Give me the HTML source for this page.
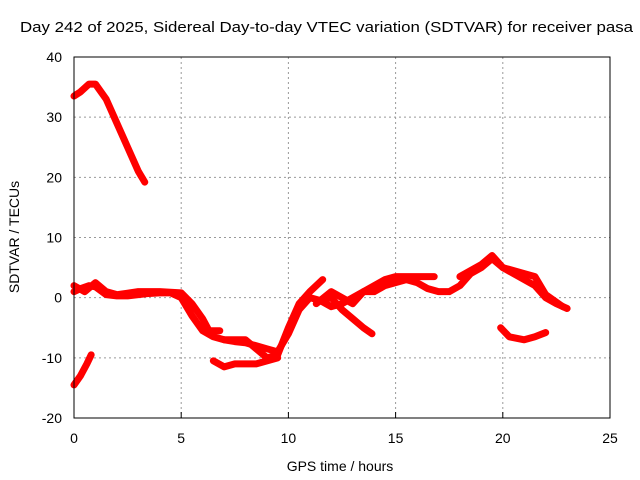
<!DOCTYPE html>
<html><head><meta charset="utf-8"><style>
body{margin:0;background:#fff}
svg{display:block;font-family:"Liberation Sans",sans-serif}
</style></head><body>
<svg id="c" width="640" height="480">
<text x="20" y="32" font-size="15" textLength="613" lengthAdjust="spacingAndGlyphs">Day 242 of 2025, Sidereal Day-to-day VTEC variation (SDTVAR) for receiver pasa</text>
<text x="340" y="471" font-size="14" text-anchor="middle">GPS time / hours</text>
<text transform="translate(19,237) rotate(-90)" font-size="14" text-anchor="middle">SDTVAR / TECUs</text>
<g id="grid"></g><g id="marks"></g>
<rect x="74" y="57" width="536" height="361" fill="none" stroke="#000" stroke-width="1"/>
</svg>
<script>
const xTicks=[0,5,10,15,20,25];
const yTicks=[-20,-10,0,10,20,30,40];
const s1x=[0,0.3,0.7,1.0,1.5,2,2.5,3,3.3];
const s1y=[33.5,34.2,35.5,35.5,33,29,25,21,19.2];
const s2x=[0,0.3,0.6,0.8];
const s2y=[-14.5,-13,-11,-9.5];
const s3x=[0,0.3,0.7,1.0,1.5,2,2.5,3,3.5,4,4.5,5,5.5,6,6.5,7,7.5,8,8.5,9,9.5,10,10.5,11,11.5,12,12.5,13,13.5,14,14.5,15,15.5,16,16.5,17,17.5,18,18.5,19,19.5,20,20.5,21,21.5,22,22.5,23];
const s3y=[1,1.5,2,1.8,0.5,0.3,0.3,0.5,0.7,0.8,0.8,0,-3,-5.5,-6.5,-7,-7.3,-7.5,-8,-8.5,-9,-6,-2,0,-0.5,-1.5,-1,0,1,1,2,2.5,3,2.5,1.5,1,1,2,4,5,6.5,5,4,3,2,0,-1,-1.8];
const s4x=[0,0.5,1,1.5,2,3,4,5,5.5,6,6.3,6.8];
const s4y=[2,1,2.5,1,0.5,1,1,0.8,-1,-3.5,-5.5,-5.5];
const s5x=[7,8,8.5,9,9.5,10,10.5,11,11.6];
const s5y=[-7,-7,-8.5,-10,-9.5,-5,-1,1,3];
const s6x=[11.5,12,12.5,13,13.5,13.9];
const s6y=[-0.5,0,-2,-3.5,-5,-6];
const s7x=[6.5,7,7.5,8.5,9,9.5];
const s7y=[-10.5,-11.5,-11,-11,-10.5,-10];
const s8x=[11.3,12,12.5,13,13.5,14,14.5,15,16,16.8];
const s8y=[-1,1,0,-1,1,2,3,3.5,3.5,3.5];
const s9x=[18,18.5,19,19.5,20,21,21.5,22,22.8];
const s9y=[3.5,4.5,5.5,7,5,4,3.5,0.5,-1.5];
const s10x=[19.9,20.3,21,21.5,22];
const s10y=[-5,-6.5,-7,-6.5,-5.8];
const series=[[s1x,s1y],[s2x,s2y],[s3x,s3y],[s4x,s4y],[s5x,s5y],[s6x,s6y],[s7x,s7y],[s8x,s8y],[s9x,s9y],[s10x,s10y]];
const X=v=>74+v*(536/25), Y=v=>418-(v+20)*(361/60);
const NS="http://www.w3.org/2000/svg";
const g=document.getElementById('grid'), m=document.getElementById('marks');
function mk(t,a,p){const e=document.createElementNS(NS,t);for(const k in a)e.setAttribute(k,a[k]);p.appendChild(e);return e;}
xTicks.forEach(t=>{
 if(t>0&&t<25){const l=mk('line',{x1:X(t),x2:X(t),y1:57,y2:418,stroke:'#999','stroke-dasharray':'2,3'},g);
 
 }
 const tk=mk('line',{x1:X(t),x2:X(t),y1:418,y2:412,stroke:'#000'},g);
 
 
 const tx=mk('text',{x:X(t),y:443,'font-size':14,'text-anchor':'middle'},g);tx.textContent=t;
 
 
});
yTicks.forEach(t=>{
 if(t>-20&&t<40){const l=mk('line',{x1:74,x2:610,y1:Y(t),y2:Y(t),stroke:'#999','stroke-dasharray':'2,3'},g);
 
 }
 const tx=mk('text',{x:62,y:Y(t)+5,'font-size':14,'text-anchor':'end'},g);tx.textContent=t;
 
 
});
series.forEach(([xs,ys])=>{
 const p=mk('polyline',{points:xs.map((x,i)=>X(x)+','+Y(ys[i])).join(' '),fill:'none',stroke:'#f00','stroke-width':7,'stroke-linejoin':'round','stroke-linecap':'round'},m);
 
 
});
</script>
</body></html>
